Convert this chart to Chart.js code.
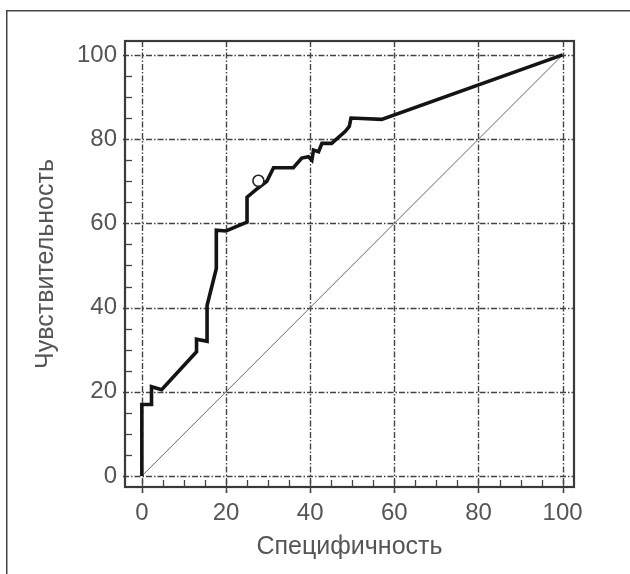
<!DOCTYPE html>
<html><head><meta charset="utf-8">
<script src="https://cdn.jsdelivr.net/npm/chart.js@4.4.0/dist/chart.umd.min.js"></script>
<style>html,body{margin:0;padding:0;background:#fff;}#wrap{position:relative;width:630px;height:574px;}</style>
</head><body><div id="wrap"><canvas id="c" width="630" height="574"></canvas></div>
<script>
// ROC curve: specificity (x) vs sensitivity (y)
const specificity = [0, 0, 2.3, 2.3, 4.7, 13, 13, 15.5, 15.5, 17.7, 17.7, 20, 25, 25, 27, 29.7, 31.3, 36, 38, 39.6, 40.4, 40.8, 42, 42.8, 45.1, 48.3, 49.3, 49.7, 57, 100];
const sensitivity = [0, 17, 17, 21.2, 20.5, 29.5, 32.5, 32, 40.5, 49.3, 58.4, 58.2, 60.3, 66.2, 67.9, 70, 73.2, 73.2, 75.5, 75.8, 75, 77.4, 77, 79, 79, 81.8, 83, 85, 84.7, 100];
const refX = [0, 100];
const refY = [0, 100];
const cutoffX = [27.7];
const cutoffY = [70.1];
const tickValues = [0, 20, 40, 60, 80, 100];
const tickLabels = ['0', '20', '40', '60', '80', '100'];
const minorValues = [5, 10, 15, 25, 30, 35, 45, 50, 55, 65, 70, 75, 85, 90, 95];
const xTitle = 'Специфичность';
const yTitle = 'Чувствительность';

const pts = (xs, ys) => xs.map((x, i) => ({x: x, y: ys[i]}));
const FONT = 'Liberation Sans, Arial, sans-serif';

const decor = {
  id: 'decor',
  beforeDraw(chart) {
    const ctx = chart.ctx;
    ctx.save();
    ctx.fillStyle = '#fff';
    ctx.fillRect(0, 0, chart.width, chart.height);
    ctx.strokeStyle = '#444';
    ctx.lineWidth = 1.5;
    ctx.beginPath();
    ctx.moveTo(6.75, chart.height);
    ctx.lineTo(6.75, 10.75);
    ctx.lineTo(chart.width, 10.75);
    ctx.stroke();
    ctx.restore();
  },
  beforeDatasetsDraw(chart) {
    const ctx = chart.ctx, a = chart.chartArea;
    const xs = chart.scales.x, ys = chart.scales.y;
    ctx.save();
    // dash-dot grid
    ctx.strokeStyle = '#444';
    ctx.lineWidth = 1.4;
    ctx.setLineDash([6, 2, 1.5, 2]);
    tickValues.forEach(v => {
      const px = Math.round(xs.getPixelForValue(v)) + 0.5;
      ctx.beginPath(); ctx.moveTo(px, a.top); ctx.lineTo(px, a.bottom + 6); ctx.stroke();
      const py = Math.round(ys.getPixelForValue(v)) + 0.5;
      ctx.beginPath(); ctx.moveTo(a.left - 2, py); ctx.lineTo(a.right, py); ctx.stroke();
    });
    ctx.setLineDash([]);
    // minor ticks inside the frame
    ctx.strokeStyle = '#444';
    ctx.lineWidth = 1.3;
    minorValues.forEach(v => {
      const py = Math.round(ys.getPixelForValue(v)) + 0.5;
      ctx.beginPath(); ctx.moveTo(a.left, py); ctx.lineTo(a.left + 7, py); ctx.stroke();
      const px = Math.round(xs.getPixelForValue(v)) + 0.5;
      ctx.beginPath(); ctx.moveTo(px, a.bottom); ctx.lineTo(px, a.bottom - 7); ctx.stroke();
    });
    // solid major tick stubs below the frame
    tickValues.forEach(v => {
      const px = Math.round(xs.getPixelForValue(v)) + 0.5;
      ctx.beginPath(); ctx.moveTo(px, a.bottom - 7); ctx.lineTo(px, a.bottom + 6); ctx.stroke();
    });
    // frame
    ctx.strokeStyle = '#3a3a3a';
    ctx.lineWidth = 2.2;
    ctx.strokeRect(a.left, a.top, a.right - a.left, a.bottom - a.top);
    ctx.restore();
  }
};

new Chart(document.getElementById('c'), {
  type: 'scatter',
  data: {
    datasets: [
      {data: pts(cutoffX, cutoffY), pointRadius: 5.5, pointBackgroundColor: '#fff', pointBorderColor: '#222', pointBorderWidth: 1.6, order: 0},
      {data: pts(specificity, sensitivity), showLine: true, borderColor: '#141414', borderWidth: 3.6, pointRadius: 0, borderJoinStyle: 'miter', order: 1},
      {data: pts(refX, refY), showLine: true, borderColor: '#6a6a6a', borderWidth: 1, pointRadius: 0, order: 2}
    ]
  },
  options: {
    responsive: false,
    animation: false,
    events: [],
    layout: {padding: {left: 0, top: 41, right: 56, bottom: 0}},
    plugins: {legend: {display: false}, tooltip: {enabled: false}},
    scales: {
      x: {
        type: 'linear', min: -4, max: 102.7,
        afterBuildTicks: s => { s.ticks = tickValues.map(v => ({value: v})); },
        afterFit: s => { s.height = 87; },
        grid: {display: false}, border: {display: false},
        ticks: {callback: v => tickLabels[tickValues.indexOf(v)], color: '#555', font: {family: FONT, size: 24}, padding: 4, maxRotation: 0, autoSkip: false},
        title: {display: true, text: xTitle, color: '#555', font: {family: FONT, size: 25}, padding: {top: 4, bottom: 12}}
      },
      y: {
        type: 'linear', min: -2.6, max: 103.3,
        afterBuildTicks: s => { s.ticks = tickValues.map(v => ({value: v})); },
        afterFit: s => { s.width = 125; },
        grid: {display: false}, border: {display: false},
        ticks: {callback: v => tickLabels[tickValues.indexOf(v)], color: '#555', font: {family: FONT, size: 24}, padding: 0, autoSkip: false},
        title: {display: true, text: yTitle, color: '#555', font: {family: FONT, size: 25}, padding: {top: 31, bottom: 0}}
      }
    }
  },
  plugins: [decor]
});
</script></body></html>
